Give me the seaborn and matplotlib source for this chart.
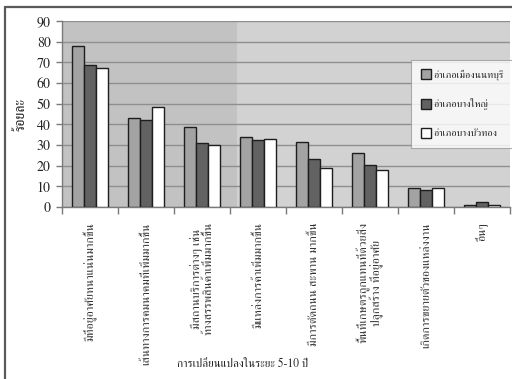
import matplotlib
matplotlib.use("Agg")
import matplotlib.pyplot as plt
from matplotlib.lines import Line2D
import pandas as pd
import seaborn as sns

categories = [
    "มีที่อยู่อาศัยหนาแน่นมากขึ้น",
    "เส้นทางการคมนาคมที่เพิ่มมากขึ้น",
    "มีสถานบริการต่างๆ เช่น\nห้างสรรพสินค้าเพิ่มมากขึ้น",
    "มีแหล่งการค้าเพิ่มมากขึ้น",
    "มีการตัดถนน สะพาน มากขึ้น",
    "พื้นที่เกษตรถูกแทนที่ด้วยสิ่ง\nปลูกสร้าง ที่อยู่อาศัย",
    "เกิดการขยายตัวของแหล่งงาน",
    "อื่นๆ",
]
districts = ["อำเภอเมืองนนทบุรี", "อำเภอบางใหญ่", "อำเภอบางบัวทอง"]
mueang = [78.0, 43.1, 38.8, 33.9, 31.6, 26.0, 9.4, 1.1]
bang_yai = [68.8, 42.2, 30.8, 32.4, 23.0, 20.3, 8.1, 2.4]
bang_bua_thong = [67.3, 48.2, 30.2, 33.1, 18.8, 18.0, 9.4, 1.1]
y_ticks = list(range(0, 91, 10))

df = pd.DataFrame({
    "category": categories * 3,
    "district": [d for d in districts for _ in categories],
    "percent": mueang + bang_yai + bang_bua_thong,
})

sns.set_theme(style="white")
plt.rcParams["font.family"] = ["FreeSerif", "DejaVu Sans"]

fig = plt.figure(figsize=(5.12, 3.79), dpi=100)
ax = fig.add_axes([62 / 512, 1 - 207 / 379, 448 / 512, 186 / 379])

# plot-area background: darker left part, lighter right part
ax.set_facecolor("#c2c2c2")
ax.axvspan(2.63, 7.5, color="#d2d2d2", zorder=0, lw=0)

sns.barplot(
    data=df, x="category", y="percent", hue="district",
    order=categories, hue_order=districts,
    palette=["#a3a3a3", "#626262", "#ffffff"],
    width=0.66, gap=0, edgecolor="#1e1e1e", linewidth=1.0,
    errorbar=None, ax=ax, zorder=3,
)

ax.set_xlim(-0.5, 7.5)
ax.set_ylim(0, 90)
ax.set_yticks(y_ticks)
ax.yaxis.grid(True, color="#8f8f8f", linewidth=1.0, zorder=1)
ax.set_axisbelow(True)

for side in ["top", "right"]:
    ax.spines[side].set_visible(False)
for side in ["left", "bottom"]:
    ax.spines[side].set_color("#7a7a7a")
    ax.spines[side].set_linewidth(1.0)

ax.tick_params(axis="y", left=True, length=4, width=1, color="#7a7a7a",
               labelsize=10, pad=4, labelcolor="#222222")
# category boundaries carry the x tick marks
ax.set_xticks([i - 0.5 for i in range(len(categories) + 1)], minor=True)
ax.tick_params(axis="x", which="minor", bottom=True, length=5, width=1,
               color="#7a7a7a")
ax.tick_params(axis="x", which="major", bottom=False, length=0, pad=11)
ax.set_xticks(range(len(categories)))
ax.set_xticklabels(categories, rotation=90, va="top", ha="center",
                   multialignment="center", fontsize=8.7, color="#333333",
                   linespacing=1.0)

ax.set_xlabel("")
ax.set_ylabel("ร้อยละ", fontsize=10, color="#222222", labelpad=7)
fig.text(243 / 512, 1 - 364 / 379, "การเปลี่ยนแปลงในระยะ 5-10 ปี",
         ha="center", va="center", fontsize=8.3, color="#222222")

# legend with square markers in a white box
ax.get_legend().remove()
handles = [
    Line2D([], [], marker="s", linestyle="none", markersize=7,
           markerfacecolor=c, markeredgecolor="#1e1e1e", markeredgewidth=1.0)
    for c in ["#a3a3a3", "#626262", "#ffffff"]
]
leg = ax.legend(handles, districts, loc="upper left",
                bbox_to_anchor=((411 - 62) / 448, 1 - (60 - 21) / 186),
                frameon=True, fancybox=False, fontsize=7.5,
                labelspacing=1.75, handletextpad=0.3, handlelength=1.0,
                borderpad=0.9, borderaxespad=0)
leg.get_frame().set_edgecolor("#9a9a9a")
leg.get_frame().set_linewidth(0.8)
leg.get_frame().set_facecolor("white")
leg.set_zorder(5)

# outer chart-area frame on the top and left edges
fig.add_artist(Line2D([5 / 512, 1.0], [1 - 7 / 379, 1 - 7 / 379],
                      transform=fig.transFigure, color="#5a5a5a", lw=1.6))
fig.add_artist(Line2D([5 / 512, 5 / 512], [0, 1 - 7 / 379],
                      transform=fig.transFigure, color="#5a5a5a", lw=1.6))

fig.savefig("out.png", dpi=100)
